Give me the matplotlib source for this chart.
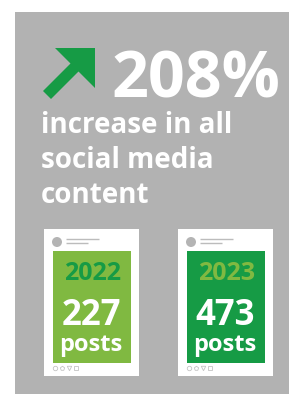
import matplotlib
matplotlib.use("Agg")
import matplotlib.pyplot as plt
from matplotlib.patches import Rectangle, Circle, Polygon

# data
increase_pct = 208
caption = ["increase in all", "social media", "content"]
years = ["2022", "2023"]
posts = [227, 473]

# colours
GRAY = "#b2b2b2"
LIGHT_GREEN = "#80b941"
DARK_GREEN = "#169b45"
card_fill = [LIGHT_GREEN, DARK_GREEN]
year_color = [DARK_GREEN, LIGHT_GREEN]

FONT = "Open Sans"

fig = plt.figure(figsize=(2.89, 3.94), dpi=100)
ax = fig.add_axes([0, 0, 1, 1])
ax.set_xlim(0, 289)
ax.set_ylim(394, 0)
ax.axis("off")

# background panel
ax.add_patch(Rectangle((15, 12), 274, 382, color=GRAY, lw=0))

# green arrow
arrow = [(43, 91), (70.5, 63.5), (55, 48), (95, 48), (95, 88), (78.5, 71.5), (51, 99)]
ax.add_patch(Polygon(arrow, closed=True, color=DARK_GREEN, lw=0))

ax.text(111, 97, "%d%%" % increase_pct, fontsize=46.5, fontweight="bold",
        family=FONT, color="white", va="baseline", ha="left")

for i, line in enumerate(caption):
    ax.text(41, 133 + i * 35, line, fontsize=20, fontweight="bold",
            family=FONT, color="white", va="baseline", ha="left")

# post cards
card_x = [44, 178]
for i in range(len(years)):
    x0 = card_x[i]
    ax.add_patch(Rectangle((x0, 229), 95, 147, color="white", lw=0))
    ax.add_patch(Rectangle((x0 + 9, 251), 78, 112, color=card_fill[i], lw=0))
    # header: avatar + name lines
    ax.add_patch(Circle((x0 + 13, 242), 5, color="#b4b4b4", lw=0))
    ax.plot([x0 + 22, x0 + 55], [239, 239], color="#bcbcbc", lw=1.0,
            solid_capstyle="butt")
    ax.plot([x0 + 22, x0 + 44], [243, 243], color="#bcbcbc", lw=1.0,
            solid_capstyle="butt")
    # footer icons
    for k, m in enumerate(["o", "p", "v", "s"]):
        ax.plot(x0 + 11 + k * 7, 368, marker=m, ms=3.2, mfc="none",
                mec="#c4c4c4", mew=0.6)
    cx = x0 + 48
    ax.text(cx + 1, 280, years[i], fontsize=18, fontweight="bold", family=FONT,
            color=year_color[i], ha="center", va="baseline")
    ax.text(cx - 1, 325, str(posts[i]), fontsize=25, fontweight="bold",
            family=FONT, color="white", ha="center", va="baseline")
    ax.text(cx - 1, 351, "posts", fontsize=17, fontweight="bold",
            family=FONT, color="white", ha="center", va="baseline")

fig.savefig("out.png", dpi=100)
